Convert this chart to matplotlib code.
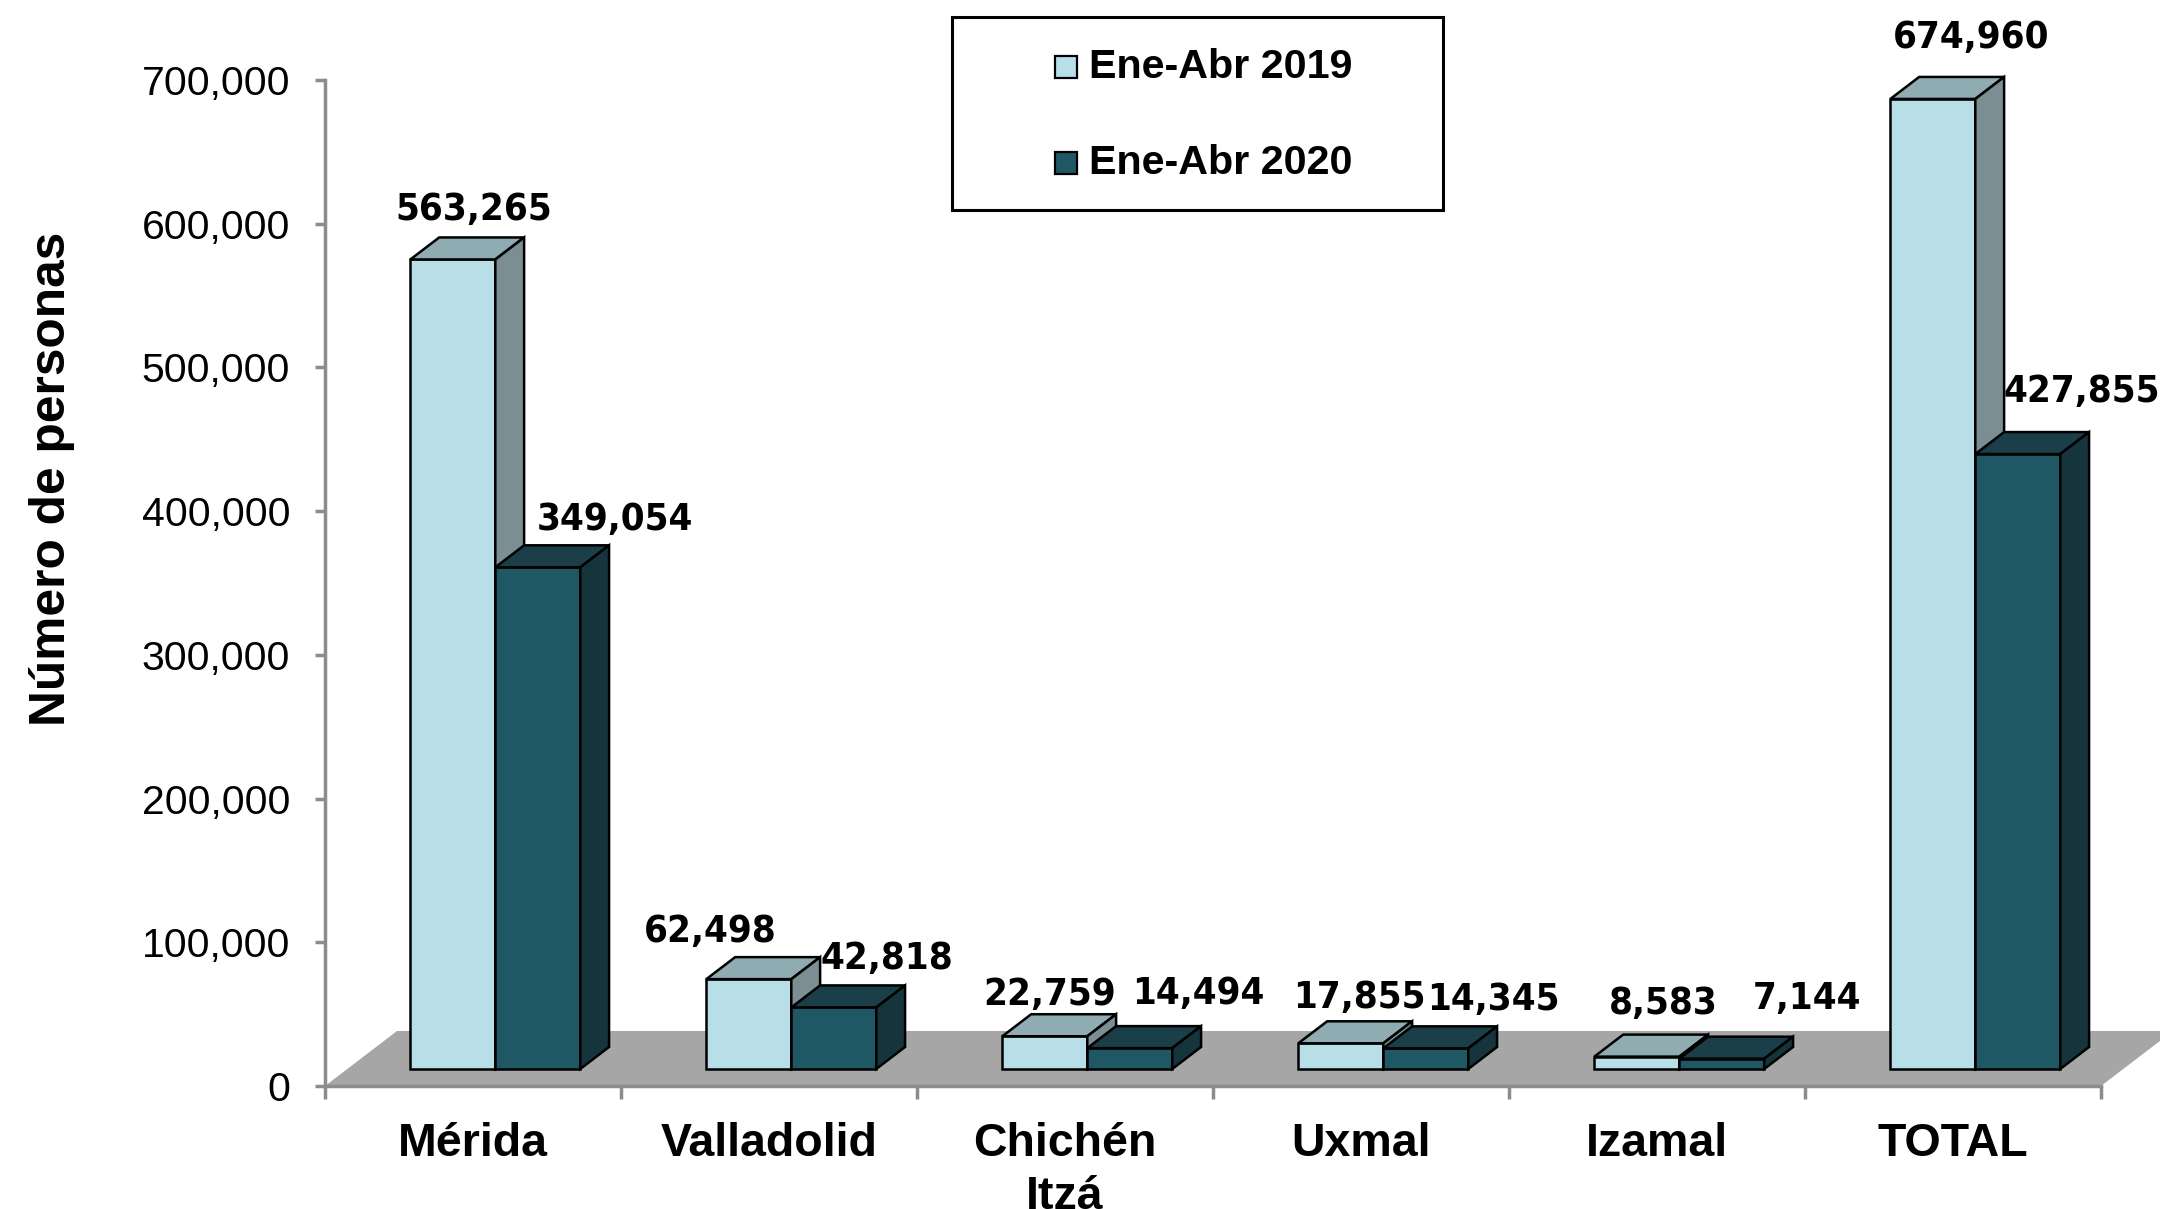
import matplotlib
matplotlib.use("Agg")
import matplotlib.pyplot as plt
from matplotlib.patches import Polygon, Rectangle
from matplotlib.ticker import FuncFormatter

categories = ["Mérida", "Valladolid", "Chichén\nItzá", "Uxmal", "Izamal", "TOTAL"]
series_names = ["Ene-Abr 2019", "Ene-Abr 2020"]
values_2019 = [563265, 62498, 22759, 17855, 8583, 674960]
values_2020 = [349054, 42818, 14494, 14345, 7144, 427855]

# colours: front, top, side
colors = [("#B8DFE8", "#8EACB2", "#7A8E93"),
          ("#1F5765", "#1B3F48", "#15343C")]

# label offsets in points (dx, dy) from the top of each bar
offsets_2019 = [(5, 20), (-38, 18), (-7, 14), (3, 17), (9, 22), (17, 28)]
offsets_2020 = [(45, 18), (28, 19), (39, 23), (38, 19), (51, 27), (36, 29)]

fig = plt.figure(figsize=(21.6, 12.09), dpi=100)
ax = fig.add_axes([325 / 2160, 1 - 1086 / 1209, 1776 / 2160, 1006 / 1209])
ax.set_xlim(0, len(categories))
ax.set_ylim(0, 700000)

# depth projection of the floor (data units)
DX = 72 / 296
DY = 55 * 700000 / 1006
d0, d1 = 0.31, 0.71
w = 0.287

n = len(categories)
floor = Polygon([(0, 0), (n, 0), (n + DX, DY), (DX, DY)], closed=True,
                facecolor="#A6A6A6", edgecolor="none", zorder=1, clip_on=False)
ax.add_patch(floor)

all_vals = [values_2019, values_2020]
all_offs = [offsets_2019, offsets_2020]
for s, vals in enumerate(all_vals):
    front, top, side = colors[s]
    xl = [k + 0.5 + (s - 1) * w + d0 * DX for k in range(n)]
    z = 2 + s
    ax.bar(xl, vals, width=w, bottom=d0 * DY, align="edge", color=front,
           edgecolor="black", linewidth=1.8, zorder=z, clip_on=False)
    for k, v in enumerate(vals):
        x0 = xl[k]
        y0 = d0 * DY
        ddx = (d1 - d0) * DX
        ddy = (d1 - d0) * DY
        top_poly = [(x0, y0 + v), (x0 + w, y0 + v), (x0 + w + ddx, y0 + v + ddy),
                    (x0 + ddx, y0 + v + ddy)]
        side_poly = [(x0 + w, y0), (x0 + w + ddx, y0 + ddy),
                     (x0 + w + ddx, y0 + v + ddy), (x0 + w, y0 + v)]
        for poly, fc in ((top_poly, top), (side_poly, side)):
            ax.add_patch(Polygon(poly, closed=True, facecolor=fc, edgecolor="black",
                                 linewidth=1.8, zorder=z + 0.5, clip_on=False,
                                 joinstyle="miter"))
        cx = x0 + w / 2 + ddx / 2
        cy = y0 + v + ddy
        ax.annotate(f"{v:,}", (cx, cy), xytext=all_offs[s][k], textcoords="offset points",
                    ha="center", va="center", fontsize=27.5, fontweight="bold",
                    fontstretch="condensed", family="DejaVu Sans",
                    annotation_clip=False, zorder=10)

# axes styling
for sp in ["top", "right"]:
    ax.spines[sp].set_visible(False)
for sp in ["left", "bottom"]:
    ax.spines[sp].set_color("#8C8C8C")
    ax.spines[sp].set_linewidth(2.5)
    ax.spines[sp].set_zorder(1.5)

ax.set_yticks(range(0, 700001, 100000))
ax.yaxis.set_major_formatter(FuncFormatter(lambda v, p: f"{int(v):,}"))
ax.tick_params(axis="y", length=7, width=2.5, color="#8C8C8C", pad=18,
               labelsize=29.5)
for lab in ax.get_yticklabels():
    lab.set_family("Liberation Sans")

ax.set_xticks([k + 0.5 for k in range(n)])
ax.set_xticklabels(categories, fontsize=33.5, fontweight="bold",
                   family="Liberation Sans", linespacing=1.25)
ax.tick_params(axis="x", length=0, pad=26)
ax.set_xticks(range(n + 1), minor=True)
ax.tick_params(axis="x", which="minor", length=9, width=2.5, color="#8C8C8C")

ax.set_ylabel("Número de personas", fontsize=35.7, fontweight="bold",
              family="Liberation Sans")
ax.yaxis.set_label_coords(-0.1405, 0.604)

# legend box drawn in figure pixel coordinates
H = 1209
fig.patches.append(Rectangle((952 / 2160, 1 - 210 / H), (1443 - 952) / 2160, 193 / H,
                             transform=fig.transFigure, facecolor="white",
                             edgecolor="black", linewidth=2.2))
for i, (name, c) in enumerate(zip(series_names, colors)):
    yc = 67 + i * 96
    fig.patches.append(Rectangle((1055 / 2160, 1 - (yc + 11) / H), 22 / 2160, 22 / H,
                                 transform=fig.transFigure, facecolor=c[0],
                                 edgecolor="black", linewidth=1.6))
    fig.text(1089 / 2160, 1 - yc / H, name, fontsize=29.7, fontweight="bold",
             family="Liberation Sans", va="center", ha="left")

fig.savefig("out.png", dpi=100)
